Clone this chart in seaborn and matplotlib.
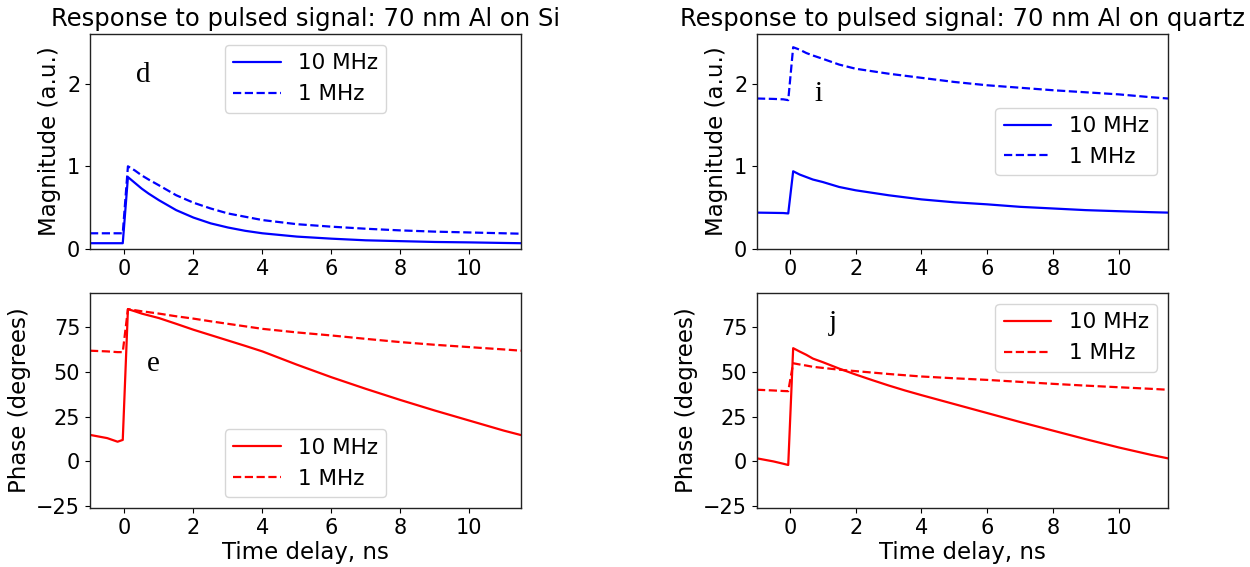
import numpy as np
import pandas as pd
import matplotlib
matplotlib.use("Agg")
import matplotlib.pyplot as plt
import seaborn as sns

# ---------------- data ----------------
t = [-1.0, -0.5, -0.2, -0.05, 0.1, 0.3, 0.5, 0.7, 1.0, 1.5, 2.0, 2.5, 3.0, 3.5,
     4.0, 5.0, 6.0, 7.0, 8.0, 9.0, 10.0, 11.0, 11.5]

# Magnitude, 70 nm Al on Si
mag_si_10 = [0.07, 0.07, 0.07, 0.07, 0.87, 0.80, 0.73, 0.67, 0.59, 0.47, 0.38, 0.31, 0.26, 0.22,
             0.19, 0.15, 0.125, 0.105, 0.095, 0.085, 0.08, 0.073, 0.07]
mag_si_1 = [0.19, 0.19, 0.19, 0.19, 1.00, 0.95, 0.89, 0.84, 0.77, 0.65, 0.56, 0.49, 0.43, 0.39,
            0.35, 0.30, 0.27, 0.245, 0.225, 0.21, 0.20, 0.19, 0.185]

# Magnitude, 70 nm Al on quartz
mag_qz_10 = [0.44, 0.437, 0.435, 0.43, 0.94, 0.90, 0.87, 0.84, 0.81, 0.75, 0.71, 0.68, 0.65, 0.625,
             0.60, 0.565, 0.54, 0.51, 0.49, 0.47, 0.457, 0.445, 0.44]
mag_qz_1 = [1.82, 1.815, 1.81, 1.80, 2.44, 2.41, 2.37, 2.34, 2.30, 2.23, 2.18, 2.15, 2.12, 2.095,
            2.07, 2.02, 1.98, 1.95, 1.92, 1.895, 1.87, 1.835, 1.82]

# Phase, 70 nm Al on Si
ph_si_10 = [14.8, 13.0, 11.0, 12.0, 85.0, 83.8, 82.5, 81.5, 80.0, 76.8, 73.5, 70.5, 67.5, 64.5,
            61.4, 54.0, 47.0, 40.5, 34.3, 28.4, 22.8, 17.2, 14.7]
ph_si_1 = [61.8, 61.4, 61.0, 61.0, 85.0, 84.4, 83.8, 83.3, 82.5, 81.0, 79.7, 78.2, 76.8, 75.4,
           74.0, 72.0, 70.3, 68.4, 66.6, 65.1, 63.8, 62.5, 61.8]

# Phase, 70 nm Al on quartz
ph_qz_10 = [1.7, 0.0, -1.3, -2.0, 63.2, 61.3, 59.5, 57.4, 55.4, 51.8, 48.5, 45.4, 42.4, 39.6,
            37.0, 32.0, 27.0, 22.0, 17.2, 12.4, 7.8, 3.6, 1.7]
ph_qz_1 = [40.0, 39.6, 39.3, 39.2, 54.8, 54.1, 53.5, 52.8, 52.2, 51.2, 50.4, 49.6, 48.8, 48.1,
           47.4, 46.4, 45.5, 44.4, 43.3, 42.3, 41.4, 40.5, 40.0]

freqs = ["10 MHz", "1 MHz"]
titles = ["Response to pulsed signal: 70 nm Al on Si",
          "Response to pulsed signal: 70 nm Al on quartz"]
panel_tags = ["d", "e", "i", "j"]
xticks = [0, 2, 4, 6, 8, 10]

# ---------------- styling ----------------
sns.set_theme(style="ticks")
plt.rcParams.update({
    "font.family": ["DejaVu Sans"],
    "text.color": "black",
    "axes.labelcolor": "black",
    "axes.edgecolor": "#222222",
    "axes.linewidth": 1.0,
    "xtick.color": "black",
    "ytick.color": "black",
    "xtick.major.size": 3.5,
    "ytick.major.size": 3.5,
    "xtick.major.width": 0.8,
    "ytick.major.width": 0.8,
    "xtick.labelsize": 15,
    "ytick.labelsize": 15,
    "axes.labelsize": 16.5,
    "axes.titlesize": 17.5,
    "legend.fontsize": 15.5,
    "xtick.direction": "out",
    "ytick.direction": "out",
})

fig = plt.figure(figsize=(12.5, 5.67), dpi=100)
W, H = 1250, 567


def px_axes(x0, x1, y0, y1):
    return fig.add_axes([x0 / W, 1 - y1 / H, (x1 - x0) / W, (y1 - y0) / H])


ax_tl = px_axes(90, 521, 34, 249)
ax_bl = px_axes(90, 521, 293, 508)
ax_tr = px_axes(757, 1168, 34, 249)
ax_br = px_axes(757, 1168, 293, 508)


def draw(ax, y10, y1, color):
    sns.lineplot(x=t, y=y10, ax=ax, color=color, linewidth=1.6, label=freqs[0])
    sns.lineplot(x=t, y=y1, ax=ax, color=color, linewidth=1.6, linestyle="--", label=freqs[1])
    ax.set_xlim(-1, 11.5)
    ax.set_xticks(xticks)


draw(ax_tl, mag_si_10, mag_si_1, "blue")
draw(ax_tr, mag_qz_10, mag_qz_1, "blue")
draw(ax_bl, ph_si_10, ph_si_1, "red")
draw(ax_br, ph_qz_10, ph_qz_1, "red")

for ax in (ax_tl, ax_tr):
    ax.set_ylim(0, 2.6)
    ax.set_yticks([0, 1, 2])
    ax.set_ylabel("Magnitude (a.u.)")
for ax in (ax_bl, ax_br):
    ax.set_ylim(-26, 94)
    ax.set_yticks([-25, 0, 25, 50, 75])
    ax.set_ylabel("Phase (degrees)")
    ax.set_xlabel("Time delay, ns", labelpad=2)

ax_tl.set_title(titles[0], pad=6)
ax_tr.set_title(titles[1], pad=6)

leg_kw = dict(frameon=True, handlelength=2.2)
ax_tl.legend(loc="upper center", **leg_kw)
ax_tr.legend(loc="center right", **leg_kw)
ax_bl.legend(loc="lower center", **leg_kw)
ax_br.legend(loc="upper right", **leg_kw)

serif = ["Liberation Serif", "DejaVu Serif"]
ax_tl.text(0.55, 2.1, panel_tags[0], fontsize=21, family=serif, ha="center", va="center")
ax_bl.text(0.85, 54.5, panel_tags[1], fontsize=21, family=serif, ha="center", va="center")
ax_tr.text(0.87, 1.88, panel_tags[2], fontsize=21, family=serif, ha="center", va="center")
ax_br.text(1.3, 77, panel_tags[3], fontsize=21, family=serif, ha="center", va="center")

fig.savefig("out.png", dpi=100, facecolor="white")
